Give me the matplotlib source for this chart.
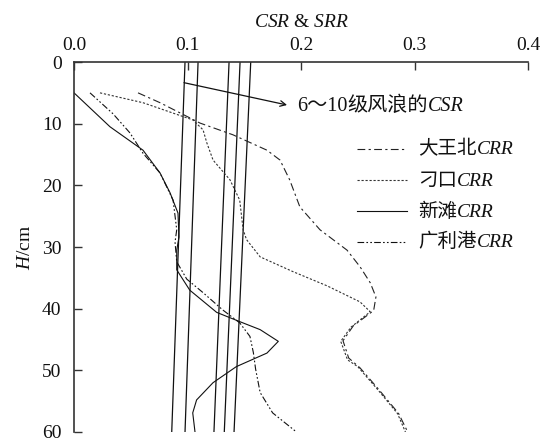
import matplotlib
matplotlib.use("Agg")
import matplotlib.pyplot as plt
from matplotlib.offsetbox import TextArea, HPacker, AnnotationBbox

plt.rcParams['font.family'] = ['Liberation Serif', 'Noto Sans CJK SC']
plt.rcParams['mathtext.fontset'] = 'custom'
plt.rcParams['mathtext.rm'] = 'Liberation Serif'
plt.rcParams['mathtext.it'] = 'Liberation Serif:italic'

SERIF = 'Liberation Serif'
CJK = 'Noto Sans CJK SC'

# CSR straight lines for wave grades 6~10: x at H=0 and H=60
csr_depth = [0, 60]
csr_top = [0.0978, 0.1093, 0.1366, 0.1463, 0.1557]
csr_bottom = [0.0861, 0.0978, 0.1233, 0.1324, 0.1410]

# CRR profiles (H in cm)
dawangbei_h = [5.0, 6.6, 9.9, 11.8, 14.3, 15.9, 19.1, 23.5, 27.2, 30.5, 33.2, 35.8, 38.1,
               40.3, 42.8, 45.2, 48.0, 49.6, 53.0, 57.0, 60.0]
dawangbei_x = [0.0564, 0.0758, 0.111, 0.140, 0.170, 0.1815, 0.190, 0.199, 0.2167, 0.2405, 0.252,
               0.261, 0.266, 0.264, 0.246, 0.237, 0.242, 0.252, 0.268, 0.286, 0.294]

diaokou_h = [5.0, 6.6, 9.4, 11.0, 13.1, 15.9, 19.1, 22.4, 27.2, 28.8, 31.6, 34.0, 36.3, 38.9,
             40.5, 43.0, 45.3, 48.3, 49.4, 53.0, 57.0, 60.0]
diaokou_x = [0.0229, 0.0608, 0.1048, 0.1137, 0.117, 0.1225, 0.1374, 0.146, 0.149, 0.152, 0.164,
             0.193, 0.223, 0.252, 0.261, 0.244, 0.235, 0.241, 0.250, 0.267, 0.285, 0.292]

xintan_h = [5.0, 10.5, 14.3, 18.0, 21.2, 24.5, 28.4, 30.5, 33.7, 37.0, 40.6, 42.1, 43.4, 45.3,
            47.2, 49.4, 52.0, 54.8, 56.9, 60.0]
xintan_x = [0.0, 0.0317, 0.0608, 0.0758, 0.0846, 0.0916, 0.0925, 0.0905, 0.0905, 0.102, 0.1257,
            0.146, 0.164, 0.180, 0.170, 0.143, 0.1225, 0.108, 0.1046, 0.1066]

guangligang_h = [5.0, 8.4, 11.5, 14.8, 18.0, 22.4, 27.2, 29.2, 32.4, 35.2, 37.4, 40.2, 42.3,
                 44.5, 47.1, 49.8, 53.6, 56.9, 60.0]
guangligang_x = [0.0141, 0.0344, 0.0493, 0.0608, 0.0758, 0.0873, 0.0905, 0.0890, 0.0905, 0.0993,
                 0.1137, 0.131, 0.146, 0.155, 0.158, 0.160, 0.164, 0.175, 0.196]

legend_names = ['大王北', '刁口', '新滩', '广利港']


def mixed_text(ax, xy, parts, coords='data', size=13):
    # parts: list of (text, family, style)
    boxes = [TextArea(s, textprops=dict(family=fam, style=st, size=size, color='#111111'))
             for s, fam, st in parts]
    pack = HPacker(children=boxes, align='baseline', pad=0, sep=0)
    ab = AnnotationBbox(pack, xy, xycoords=coords, box_alignment=(0, 0.5),
                        frameon=False, pad=0, annotation_clip=False)
    ax.add_artist(ab)


fig = plt.figure(figsize=(5.43, 4.38), dpi=100)
ax = fig.add_axes([0.1363, 0.0137, 0.8361, 0.8447])

for x0, x1 in zip(csr_top, csr_bottom):
    ax.plot([x0, x1], csr_depth, color='#111111', lw=0.9)

styles = {
    'dawangbei': dict(ls=(0, (7, 3, 2, 3)), color='#222222', lw=0.8),
    'diaokou': dict(ls=(0, (2, 1.6)), color='#333333', lw=0.8),
    'xintan': dict(ls='-', color='#111111', lw=0.8),
    'guangligang': dict(ls=(0, (6, 2, 1.5, 2, 1.5, 2)), color='#111111', lw=0.8),
}
ax.plot(dawangbei_x, dawangbei_h, **styles['dawangbei'])
ax.plot(diaokou_x, diaokou_h, **styles['diaokou'])
ax.plot(xintan_x, xintan_h, **styles['xintan'])
ax.plot(guangligang_x, guangligang_h, **styles['guangligang'])

ax.set_xlim(0, 0.4)
ax.set_ylim(60, 0)
ax.set_xticks([0.0, 0.1, 0.2, 0.3, 0.4])
ax.set_xticklabels(['0.0', '0.1', '0.2', '0.3', '0.4'])
ax.set_yticks([0, 10, 20, 30, 40, 50, 60])
ax.xaxis.tick_top()
ax.xaxis.set_label_position('top')
ax.tick_params(axis='both', direction='in', length=6, width=1.0, color='#333333',
               labelsize=14, labelcolor='#111111')
ax.tick_params(axis='y', pad=9)
ax.tick_params(axis='x', pad=6)
for side in ['right', 'bottom']:
    ax.spines[side].set_visible(False)
for side in ['top', 'left']:
    ax.spines[side].set_color('#333333')
    ax.spines[side].set_linewidth(1.2)

ax.set_xlabel(r'$\mathit{CSR}$ & $\mathit{SRR}$', fontsize=14, labelpad=7, color='#111111')
ax.set_ylabel(r'$\mathit{H}$/cm', fontsize=14, labelpad=6, color='#111111')

# arrow pointing at the CSR bundle
ax.annotate('', xy=(0.1877, 6.97), xytext=(0.0969, 3.35),
            arrowprops=dict(arrowstyle='->', color='#111111', lw=0.9,
                            shrinkA=0, shrinkB=0, mutation_scale=10))
mixed_text(ax, (0.1965, 7.0), [('6～10', [SERIF, CJK], 'normal'),
                               ('级风浪的', CJK, 'normal'),
                               ('CSR', SERIF, 'italic')], size=14.5)

# legend drawn by hand
row_y = [0.765, 0.681, 0.597, 0.514]
for name, key, yy in zip(legend_names, ['dawangbei', 'diaokou', 'xintan', 'guangligang'], row_y):
    ax.plot([0.623, 0.733], [yy, yy], transform=ax.transAxes, **styles[key])
    mixed_text(ax, (0.758, yy), [(name, CJK, 'normal'), ('CRR', SERIF, 'italic')],
               coords='axes fraction', size=14)

fig.savefig('out.png', dpi=100)
